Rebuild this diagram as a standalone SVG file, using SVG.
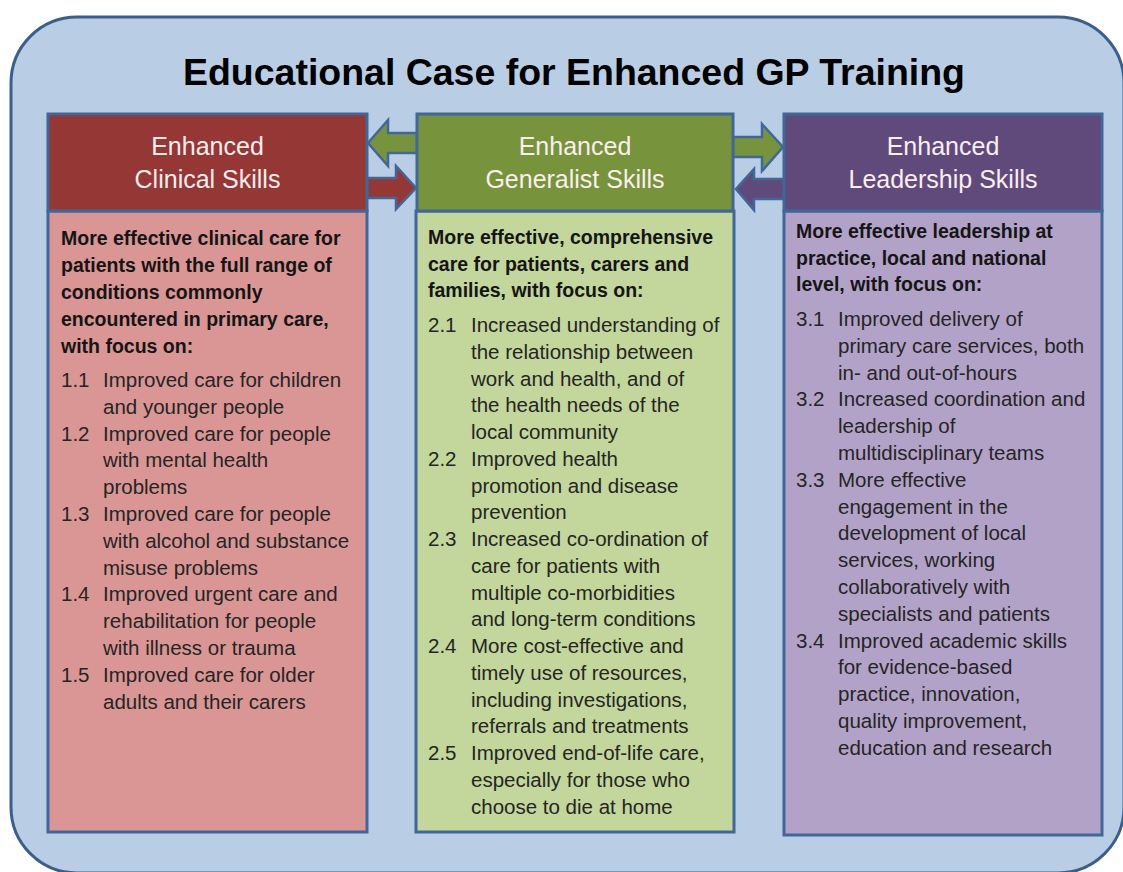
<svg xmlns="http://www.w3.org/2000/svg" width="1123" height="872" viewBox="0 0 1123 872">
<defs>
<style>
.outer{fill:#b9cde5;stroke:#3b5f8c;stroke-width:3}
.box{stroke:#41679a;stroke-width:3}
.arr{stroke:#41679a;stroke-width:2.5;stroke-linejoin:miter}
.title{font-family:"Liberation Sans",Arial,sans-serif;font-weight:bold;font-size:37px;fill:#000}
.hd{font-family:"Liberation Sans",Arial,sans-serif;font-size:25px;fill:#fbeeee;text-anchor:middle}
.b{font-family:"Liberation Sans",Arial,sans-serif;font-weight:bold;font-size:19.5px;fill:#151515}
.t{font-family:"Liberation Sans",Arial,sans-serif;font-size:20.5px;fill:#252525}
</style>
</defs>
<rect class="outer" x="11" y="17" width="1113" height="856" rx="66" ry="66"/>
<text id="title" class="title" x="183" y="85" textLength="782" lengthAdjust="spacingAndGlyphs">Educational Case for Enhanced GP Training</text>

<g id="connectors">
<polygon class="arr" fill="#77933c" points="417,133 388,133 388,120 368,143 388,166 388,153 417,153"/>
<polygon class="arr" fill="#953735" points="367,178 396,178 396,166 416,188 396,209 396,198 367,198"/>
<polygon class="arr" fill="#77933c" points="733,137 762,137 762,124 783,147 762,171 762,157 733,157"/>
<polygon class="arr" fill="#604a7b" points="785,179 754,179 754,169 736,189 754,210 754,199 785,199"/>
</g>

<g id="clinical">
<rect class="box" x="48" y="211" width="319" height="621" fill="#d99694"/>
<rect class="box" x="48" y="114" width="319" height="97" fill="#953735"/>
<text class="hd"><tspan x="207.5" y="155">Enhanced</tspan><tspan x="207.5" y="188">Clinical Skills</tspan></text>
<text class="b"><tspan x="61" y="245">More effective clinical care for</tspan><tspan x="61" y="272">patients with the full range of</tspan><tspan x="61" y="299">conditions commonly</tspan><tspan x="61" y="326">encountered in primary care,</tspan><tspan x="61" y="353">with focus on:</tspan></text>
<text class="t">
<tspan x="61" y="387">1.1</tspan><tspan x="103" y="387">Improved care for children</tspan>
<tspan x="103" y="413.8">and younger people</tspan>
<tspan x="61" y="440.6">1.2</tspan><tspan x="103" y="440.6">Improved care for people</tspan>
<tspan x="103" y="467.4">with mental health</tspan>
<tspan x="103" y="494.2">problems</tspan>
<tspan x="61" y="521">1.3</tspan><tspan x="103" y="521">Improved care for people</tspan>
<tspan x="103" y="547.8">with alcohol and substance</tspan>
<tspan x="103" y="574.6">misuse problems</tspan>
<tspan x="61" y="601.4">1.4</tspan><tspan x="103" y="601.4">Improved urgent care and</tspan>
<tspan x="103" y="628.2">rehabilitation for people</tspan>
<tspan x="103" y="655">with illness or trauma</tspan>
<tspan x="61" y="681.8">1.5</tspan><tspan x="103" y="681.8">Improved care for older</tspan>
<tspan x="103" y="708.6">adults and their carers</tspan>
</text>
</g>

<g id="generalist">
<rect class="box" x="416" y="211" width="318" height="621" fill="#c3d69b"/>
<rect class="box" x="417" y="114" width="316" height="97" fill="#77933c"/>
<text class="hd"><tspan x="575" y="155">Enhanced</tspan><tspan x="575" y="188">Generalist Skills</tspan></text>
<text class="b"><tspan x="428" y="244">More effective, comprehensive</tspan><tspan x="428" y="270.5">care for patients, carers and</tspan><tspan x="428" y="297">families, with focus on:</tspan></text>
<text class="t">
<tspan x="428" y="332">2.1</tspan><tspan x="471" y="332">Increased understanding of</tspan>
<tspan x="471" y="358.75">the relationship between</tspan>
<tspan x="471" y="385.5">work and health, and of</tspan>
<tspan x="471" y="412.25">the health needs of the</tspan>
<tspan x="471" y="439">local community</tspan>
<tspan x="428" y="465.75">2.2</tspan><tspan x="471" y="465.75">Improved health</tspan>
<tspan x="471" y="492.5">promotion and disease</tspan>
<tspan x="471" y="519.25">prevention</tspan>
<tspan x="428" y="546">2.3</tspan><tspan x="471" y="546">Increased co-ordination of</tspan>
<tspan x="471" y="572.75">care for patients with</tspan>
<tspan x="471" y="599.5">multiple co-morbidities</tspan>
<tspan x="471" y="626.25">and long-term conditions</tspan>
<tspan x="428" y="653">2.4</tspan><tspan x="471" y="653">More cost-effective and</tspan>
<tspan x="471" y="679.75">timely use of resources,</tspan>
<tspan x="471" y="706.5">including investigations,</tspan>
<tspan x="471" y="733.25">referrals and treatments</tspan>
<tspan x="428" y="760">2.5</tspan><tspan x="471" y="760">Improved end-of-life care,</tspan>
<tspan x="471" y="786.75">especially for those who</tspan>
<tspan x="471" y="813.5">choose to die at home</tspan>
</text>
</g>

<g id="leadership">
<rect class="box" x="784" y="211" width="318" height="624" fill="#b3a2c7"/>
<rect class="box" x="784" y="114" width="318" height="97" fill="#604a7b"/>
<text class="hd"><tspan x="943" y="155">Enhanced</tspan><tspan x="943" y="188">Leadership Skills</tspan></text>
<text class="b"><tspan x="796" y="238">More effective leadership at</tspan><tspan x="796" y="265">practice, local and national</tspan><tspan x="796" y="291">level, with focus on:</tspan></text>
<text class="t">
<tspan x="796" y="326">3.1</tspan><tspan x="838" y="326">Improved delivery of</tspan>
<tspan x="838" y="352.8">primary care services, both</tspan>
<tspan x="838" y="379.6">in- and out-of-hours</tspan>
<tspan x="796" y="406.4">3.2</tspan><tspan x="838" y="406.4">Increased coordination and</tspan>
<tspan x="838" y="433.2">leadership of</tspan>
<tspan x="838" y="460">multidisciplinary teams</tspan>
<tspan x="796" y="486.8">3.3</tspan><tspan x="838" y="486.8">More effective</tspan>
<tspan x="838" y="513.6">engagement in the</tspan>
<tspan x="838" y="540.4">development of local</tspan>
<tspan x="838" y="567.2">services, working</tspan>
<tspan x="838" y="594">collaboratively with</tspan>
<tspan x="838" y="620.8">specialists and patients</tspan>
<tspan x="796" y="647.6">3.4</tspan><tspan x="838" y="647.6">Improved academic skills</tspan>
<tspan x="838" y="674.4">for evidence-based</tspan>
<tspan x="838" y="701.2">practice, innovation,</tspan>
<tspan x="838" y="728">quality improvement,</tspan>
<tspan x="838" y="754.8">education and research</tspan>
</text>
</g>
</svg>
